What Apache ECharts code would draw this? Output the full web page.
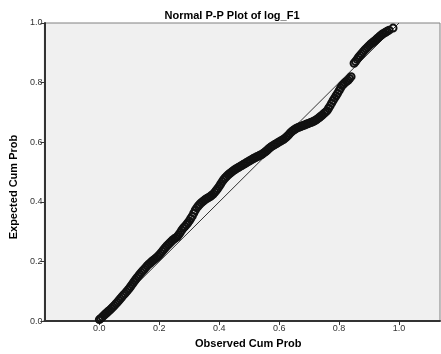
<!DOCTYPE html>
<html>
<head>
<meta charset="utf-8">
<script src="https://cdn.jsdelivr.net/npm/echarts@6/dist/echarts.min.js"></script>
<style>
  html, body { margin: 0; padding: 0; background: #fff; }
  #main { width: 441px; height: 354px; }
</style>
</head>
<body>
<div id="main"></div>
<script>
// observed cumulative probability (x) and expected cumulative probability (y)
var observed = [
  0.000, 0.005, 0.010, 0.015, 0.020, 0.025, 0.030, 0.035, 0.040, 0.045,
  0.050, 0.055, 0.060, 0.065, 0.070, 0.075, 0.080, 0.085, 0.090, 0.095,
  0.100, 0.105, 0.110, 0.115, 0.120, 0.125, 0.130, 0.135, 0.140, 0.145,
  0.150, 0.155, 0.160, 0.165, 0.170, 0.175, 0.180, 0.185, 0.190, 0.195,
  0.200, 0.205, 0.210, 0.215, 0.220, 0.225, 0.230, 0.235, 0.240, 0.245,
  0.250, 0.255, 0.260, 0.265, 0.270, 0.275, 0.280, 0.285, 0.290, 0.295,
  0.300, 0.305, 0.310, 0.315, 0.320, 0.325, 0.330, 0.335, 0.340, 0.345,
  0.350, 0.355, 0.360, 0.365, 0.370, 0.375, 0.380, 0.385, 0.390, 0.395,
  0.400, 0.405, 0.410, 0.415, 0.420, 0.425, 0.430, 0.435, 0.440, 0.445,
  0.450, 0.455, 0.460, 0.465, 0.470, 0.475, 0.480, 0.485, 0.490, 0.495,
  0.500, 0.505, 0.510, 0.515, 0.520, 0.525, 0.530, 0.535, 0.540, 0.545,
  0.550, 0.555, 0.560, 0.565, 0.570, 0.575, 0.580, 0.585, 0.590, 0.595,
  0.600, 0.605, 0.610, 0.615, 0.620, 0.625, 0.630, 0.635, 0.640, 0.645,
  0.650, 0.655, 0.660, 0.665, 0.670, 0.675, 0.680, 0.685, 0.690, 0.695,
  0.700, 0.705, 0.710, 0.715, 0.720, 0.725, 0.730, 0.735, 0.740, 0.745,
  0.750, 0.755, 0.760, 0.765, 0.770, 0.775, 0.780, 0.785, 0.790, 0.795,
  0.800, 0.805, 0.810, 0.815, 0.820, 0.825, 0.830, 0.835, 0.840,
  0.850, 0.855, 0.860, 0.865, 0.870, 0.875, 0.880, 0.885, 0.890, 0.895,
  0.900, 0.905, 0.910, 0.915, 0.920, 0.925, 0.930, 0.935, 0.940, 0.945,
  0.950, 0.955, 0.960, 0.967, 0.980
];
var expected = [
  0.005, 0.009, 0.014, 0.019, 0.024, 0.028, 0.033, 0.037, 0.042, 0.047,
  0.052, 0.058, 0.063, 0.069, 0.075, 0.081, 0.087, 0.092, 0.098, 0.104,
  0.110, 0.117, 0.124, 0.131, 0.138, 0.145, 0.151, 0.157, 0.163, 0.169,
  0.174, 0.180, 0.186, 0.191, 0.195, 0.200, 0.204, 0.208, 0.212, 0.217,
  0.222, 0.228, 0.234, 0.240, 0.246, 0.252, 0.257, 0.262, 0.267, 0.272,
  0.276, 0.279, 0.283, 0.290, 0.297, 0.305, 0.312, 0.317, 0.323, 0.329,
  0.336, 0.344, 0.352, 0.362, 0.372, 0.380, 0.386, 0.392, 0.397, 0.401,
  0.405, 0.409, 0.412, 0.415, 0.418, 0.422, 0.426, 0.432, 0.438, 0.445,
  0.452, 0.460, 0.468, 0.475, 0.481, 0.486, 0.491, 0.495, 0.499, 0.503,
  0.507, 0.510, 0.513, 0.516, 0.519, 0.522, 0.525, 0.528, 0.531, 0.534,
  0.537, 0.540, 0.543, 0.546, 0.548, 0.551, 0.553, 0.556, 0.558, 0.561,
  0.565, 0.569, 0.573, 0.578, 0.582, 0.586, 0.589, 0.592, 0.595, 0.598,
  0.601, 0.604, 0.607, 0.610, 0.614, 0.618, 0.623, 0.629, 0.634, 0.638,
  0.642, 0.645, 0.648, 0.650, 0.652, 0.654, 0.656, 0.658, 0.660, 0.662,
  0.664, 0.666, 0.668, 0.670, 0.673, 0.676, 0.680, 0.684, 0.688, 0.692,
  0.697, 0.701, 0.706, 0.714, 0.722, 0.731, 0.740, 0.748, 0.756, 0.764,
  0.773, 0.782, 0.790, 0.795, 0.800, 0.804, 0.808, 0.814, 0.820,
  0.865, 0.871, 0.878, 0.885, 0.891, 0.897, 0.903, 0.909, 0.914, 0.919,
  0.924, 0.929, 0.933, 0.937, 0.941, 0.946, 0.950, 0.955, 0.959, 0.963,
  0.966, 0.969, 0.972, 0.976, 0.983
];
// reference diagonal
var diagX = [0, 1];
var diagY = [0, 1];
var xTicks = [0, 0.2, 0.4, 0.6, 0.8, 1.0];

var chart = echarts.init(document.getElementById('main'), null, { renderer: 'canvas' });

var points = observed.map(function (x, i) { return [x, expected[i]]; });
var diag = diagX.map(function (x, i) { return [x, diagY[i]]; });

var font = 'Liberation Sans, Arial, sans-serif';

var option = {
  animation: false,
  backgroundColor: '#fff',
  title: {
    text: 'Normal P-P Plot of log_F1',
    left: 227,
    textAlign: 'center',
    top: 5,
    textStyle: { fontFamily: font, fontSize: 11, fontWeight: 'bold', color: '#000' }
  },
  grid: {
    left: 44, right: 1, top: 23, bottom: 32,
    show: true,
    backgroundColor: '#f0f0f0',
    borderColor: '#808080',
    borderWidth: 1
  },
  xAxis: {
    type: 'value',
    min: -0.1833,
    max: 1.1367,
    name: 'Observed Cum Prob',
    nameLocation: 'middle',
    nameGap: 12,
    nameTextStyle: { fontFamily: font, fontSize: 11, fontWeight: 'bold', color: '#000', padding: [0, 0, 0, 12] },
    axisLine: { onZero: false, lineStyle: { color: '#333', width: 2 } },
    axisTick: { show: true, length: 4, customValues: xTicks, lineStyle: { color: '#333' } },
    axisLabel: {
      customValues: xTicks, margin: 3,
      fontFamily: font, fontSize: 9, color: '#333',
      formatter: function (v) { return v.toFixed(1); }
    },
    splitLine: { show: false }
  },
  yAxis: {
    type: 'value',
    min: 0,
    max: 1,
    interval: 0.2,
    name: 'Expected Cum Prob',
    nameLocation: 'middle',
    nameGap: 25,
    nameTextStyle: { fontFamily: font, fontSize: 11, fontWeight: 'bold', color: '#000', padding: [0, 30, 0, 0] },
    axisLine: { onZero: false, lineStyle: { color: '#333', width: 2 } },
    axisTick: { show: true, length: 4, lineStyle: { color: '#333' } },
    axisLabel: {
      margin: 2,
      fontFamily: font, fontSize: 9, color: '#333',
      formatter: function (v) { return v.toFixed(1); }
    },
    splitLine: { show: false }
  },
  series: [
    {
      type: 'line',
      data: diag,
      symbol: 'none',
      lineStyle: { color: '#333', width: 1 },
      z: 2
    },
    {
      type: 'scatter',
      data: points,
      symbol: 'circle',
      symbolSize: 7,
      itemStyle: { color: 'rgba(0,0,0,0)', borderColor: '#111', borderWidth: 2, opacity: 1 },
      z: 3
    }
  ]
};

chart.setOption(option);
</script>
</body>
</html>
